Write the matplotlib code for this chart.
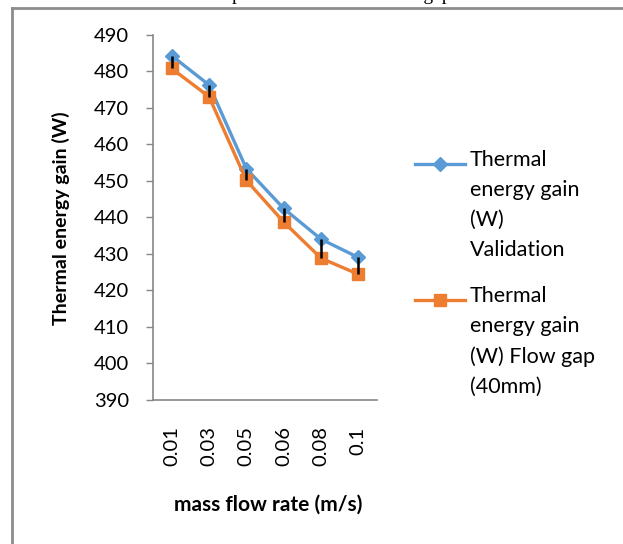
import numpy as np
import matplotlib.pyplot as plt
from matplotlib.lines import Line2D

# data
flow_rates = ["0.01", "0.03", "0.05", "0.06", "0.08", "0.1"]
gain_validation = [484.2, 476.2, 453.3, 442.4, 434.0, 429.0]
gain_flow_gap = [480.7, 473.0, 450.1, 438.7, 428.8, 424.4]
y_ticks = [390, 400, 410, 420, 430, 440, 450, 460, 470, 480, 490]

blue = "#5B9BD5"
orange = "#ED7D31"
axis_gray = "#868686"

plt.rcParams["font.family"] = ["Lato", "DejaVu Sans"]

W, H = 623, 544
fig = plt.figure(figsize=(W / 100, H / 100), dpi=100)
ax = fig.add_axes([153 / W, 1 - 400 / H, (377 - 153) / W, (400 - 34.5) / H])

x = np.arange(len(flow_rates))
ax.plot(x, gain_validation, color=blue, lw=2.4, marker="D", ms=7.5, zorder=3)
ax.plot(x, gain_flow_gap, color=orange, lw=2.4, marker="s", ms=8.5, zorder=4)

# black bars from the flow-gap point up to the validation point
diff = np.array(gain_validation) - np.array(gain_flow_gap)
ax.errorbar(x, gain_flow_gap, yerr=[np.zeros_like(diff), diff], fmt="none",
            ecolor="black", elinewidth=1.8, capsize=0, zorder=5)

ax.set_xlim(-0.5, len(flow_rates) - 0.5)
ax.set_ylim(390, 490)
ax.set_yticks(y_ticks)
ax.set_xticks(x)
ax.set_xticklabels(flow_rates, rotation=90, fontsize=14.5)
ax.tick_params(axis="x", length=0, pad=19)
ax.tick_params(axis="y", length=5, width=1, color=axis_gray, labelsize=14.5, pad=12)
for s in ["top", "right"]:
    ax.spines[s].set_visible(False)
for s in ["left", "bottom"]:
    ax.spines[s].set_color(axis_gray)
    ax.spines[s].set_linewidth(1.2)

fig.text(61 / W, 1 - 218 / H, "Thermal energy gain (W)", rotation=90,
         ha="center", va="center", fontsize=14, fontweight="bold")
fig.text(268 / W, 1 - 505 / H, "mass flow rate (m/s)", ha="center",
         va="center", fontsize=15, fontweight="bold")

# legend, drawn by hand so the key sits beside the first line of text
legend_items = [
    (blue, "D", 7, "Thermal\nenergy gain\n(W)\nValidation", 164),
    (orange, "s", 8, "Thermal\nenergy gain\n(W) Flow gap\n(40mm)", 300),
]
for col, mk, ms, label, ytop in legend_items:
    yc = 1 - ytop / H
    fig.add_artist(Line2D([415 / W, 465 / W], [yc, yc], color=col, lw=2.4))
    fig.add_artist(Line2D([440 / W], [yc], color=col, marker=mk, ms=ms, lw=0))
    fig.text(470 / W, 1 - (ytop - 14) / H, label, ha="left", va="top",
             fontsize=15.5, linespacing=1.62)

# frame of the page and the clipped caption above it
fig.add_artist(Line2D([12 / W, 12 / W], [0, 1 - 8 / H], color="#8c8c8c", lw=2))
fig.add_artist(Line2D([12 / W, 1], [1 - 8 / H, 1 - 8 / H], color="#8c8c8c", lw=2))
fig.text(232 / W, 1 - 0.5 / H, "photovoltaic water flow gap of 40mm",
         family="Liberation Serif", fontsize=14, ha="left", va="baseline")

fig.savefig("out.png", dpi=100)
